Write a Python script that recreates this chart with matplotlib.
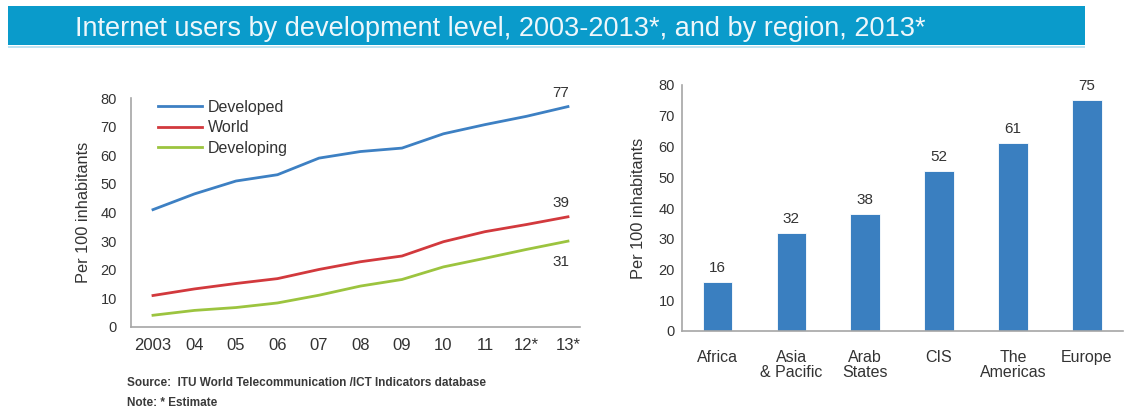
import matplotlib
matplotlib.use("Agg")
import matplotlib.pyplot as plt
from matplotlib.patches import Rectangle

years = ["2003", "04", "05", "06", "07", "08", "09", "10", "11", "12*", "13*"]
developed = [41, 46.5, 51, 53.2, 59, 61.3, 62.5, 67.5, 70.7, 73.6, 77]
world = [11, 13.3, 15.2, 16.9, 20.1, 22.8, 24.8, 29.8, 33.3, 35.8, 38.5]
developing = [4.1, 5.8, 6.8, 8.4, 11.1, 14.3, 16.6, 21, 24, 27.1, 30]
end_labels = ["77", "39", "31"]

regions = ["Africa", "Asia\n& Pacific", "Arab\nStates", "CIS", "The\nAmericas", "Europe"]
region_values = [16, 32, 38, 52, 61, 75]

FONT = ["Liberation Sans", "DejaVu Sans"]
plt.rcParams["font.family"] = FONT
TXT = "#333333"
SPINE = "#a6a6a6"
C_DEV = "#3d80c3"
C_WORLD = "#d2393d"
C_DEVING = "#9cc43f"
C_BAR = "#3a7fc0"

W, H = 1127, 416
fig = plt.figure(figsize=(W / 100, H / 100), dpi=100)
fig.patch.set_facecolor("white")

# title banner
fig.patches.append(Rectangle((8 / W, 1 - 45 / H), 1077 / W, 39 / H,
                             transform=fig.transFigure, facecolor="#0a9bcb",
                             edgecolor="none", zorder=0))
fig.patches.append(Rectangle((8 / W, 1 - 47.5 / H), 1077 / W, 2 / H,
                             transform=fig.transFigure, facecolor="#bfe3f2",
                             edgecolor="none", zorder=0))
fig.text(75 / W, 1 - 36 / H,
         "Internet users by development level, 2003-2013*, and by region, 2013*",
         color="#eef7fb", fontsize=19.5, va="baseline", ha="left")


def px_axes(x0, x1, ytop, ybot):
    return fig.add_axes([x0 / W, 1 - ybot / H, (x1 - x0) / W, (ybot - ytop) / H])


def style(ax):
    for s in ["top", "right"]:
        ax.spines[s].set_visible(False)
    for s in ["left", "bottom"]:
        ax.spines[s].set_color(SPINE)
        ax.spines[s].set_linewidth(1.2)
    ax.tick_params(length=0, colors=TXT, labelsize=10.5)


# left line chart
ax1 = px_axes(131, 580, 98, 327)
style(ax1)
xs = list(range(len(years)))
ax1.plot(xs, developed, color=C_DEV, lw=2, label="Developed")
ax1.plot(xs, world, color=C_WORLD, lw=2, label="World")
ax1.plot(xs, developing, color=C_DEVING, lw=2, label="Developing")
ax1.set_xlim(-0.53, 10.29)
ax1.set_ylim(0, 80)
ax1.set_yticks(range(0, 81, 10))
ax1.set_xticks(xs)
ax1.set_xticklabels(years)
ax1.tick_params(axis="x", pad=8, labelsize=12)
ax1.tick_params(axis="y", pad=10)
ax1.set_ylabel("Per 100 inhabitants", color=TXT, fontsize=11.8, labelpad=7)
for yv, txt, dy in zip([developed[-1], world[-1], developing[-1]], end_labels, [10, 10, -15]):
    ax1.annotate(txt, (xs[-1], yv), xytext=(-5, dy), textcoords="offset points",
                 ha="center", va="center", fontsize=11, color=TXT)
leg = ax1.legend(loc="upper left", bbox_to_anchor=(0.045, 1.02), frameon=False,
                 fontsize=11.5, handlelength=2.8, handletextpad=0.35,
                 labelspacing=0.35, borderaxespad=0)
for t in leg.get_texts():
    t.set_color(TXT)

# right bar chart
ax2 = px_axes(682, 1123, 85, 331)
style(ax2)
bx = list(range(len(regions)))
bars = ax2.bar(bx, region_values, width=0.4, color=C_BAR, edgecolor="white", linewidth=0.6)
ax2.set_xlim(-0.48, 5.49)
ax2.set_ylim(0, 80)
ax2.set_yticks(range(0, 81, 10))
ax2.set_xticks(bx)
ax2.set_xticklabels(regions, linespacing=1.0)
ax2.tick_params(axis="x", pad=14, labelsize=11.5)
ax2.tick_params(axis="y", pad=5)
ax2.set_ylabel("Per 100 inhabitants", color=TXT, fontsize=11.8, labelpad=9)
ax2.bar_label(bars, labels=[str(v) for v in region_values], padding=5,
              fontsize=11, color=TXT)

fig.text(127 / W, 1 - 383 / H,
         "Source:  ITU World Telecommunication /ICT Indicators database",
         fontsize=8.5, color="#3a3a3a", va="center", ha="left", fontweight="bold")
fig.text(127 / W, 1 - 403 / H, "Note: * Estimate",
         fontsize=8.5, color="#3a3a3a", va="center", ha="left", fontweight="bold")

fig.savefig("out.png", dpi=100)
